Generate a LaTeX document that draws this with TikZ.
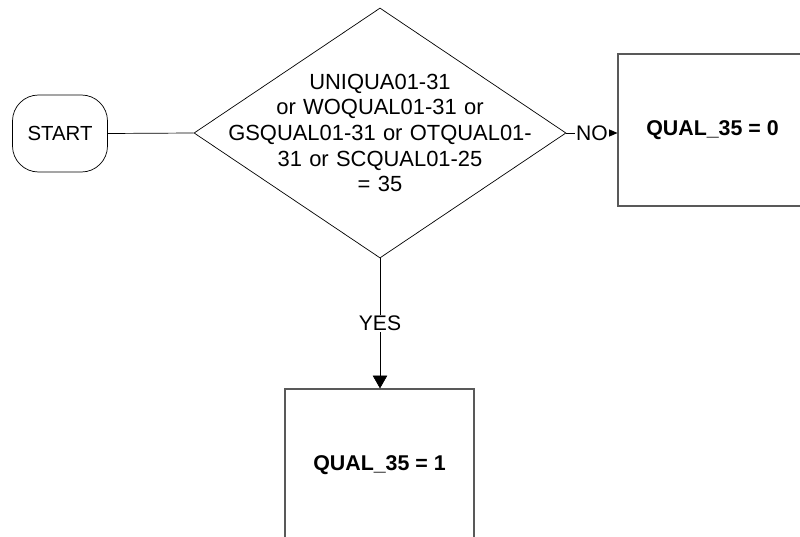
\documentclass[tikz,border=0pt]{standalone}
\usepackage{fontspec}
\setmainfont{Liberation Sans}
\usepackage{tikz}
\usetikzlibrary{shapes.geometric, arrows.meta, positioning, calc}

\begin{document}
\begin{tikzpicture}[
  terminal/.style={rectangle, rounded corners=0.65cm, draw=black, line width=0.5pt,
                   minimum width=2.375cm, minimum height=1.925cm, align=center,
                   font=\fontsize{14.5}{17}\selectfont},
  decision/.style={diamond, draw=black, line width=0.5pt, aspect=1.5,
                   inner sep=-1.2cm, minimum width=9.3cm, minimum height=6.25cm,
                   text width=8cm, align=center,
                   font=\fontsize{15.6}{18.2}\selectfont},
  process/.style={rectangle, draw=black!65, line width=0.8pt,
                  minimum width=4.725cm, minimum height=3.8cm, align=center,
                  font=\fontsize{15.2}{18}\selectfont\bfseries},
  line/.style={draw=black, line width=0.5pt},
  arr/.style={-{Triangle[length=3.2mm, width=3.6mm]}, line width=0.5pt},
  arrsmall/.style={-{Triangle[length=2.8mm, width=2.4mm]}, line width=0.5pt},
  lbl/.style={fill=white, inner sep=1pt, font=\fontsize{15}{18}\selectfont}
]

  % Canvas
  \useasboundingbox (0,0) rectangle (20,-13.425);

  % Start
  \node[terminal] (start) at (1.5, -3.3375) {START};

  % Decision
  \node[decision] (qual)  at (9.5, -3.325)
        {UNIQUA01-31\\or WOQUAL01-31 or\\GSQUAL01-31 or OTQUAL01-\\31 or SCQUAL01-25\\= 35};

  % No branch (right)
  \node[process]  (zero)  at (17.8125, -3.25)  {QUAL\_35 = 0};

  % Yes branch (down)
  \node[process]  (one)   at (9.4875, -11.625) {QUAL\_35 = 1};

  % ── Arrows ────────────────────────────────────────────────────────────
  \draw[line] (start.east) -- (qual.west);

  % qual → right (no)
  \draw[arrsmall] (qual.east) -- node[lbl]{NO} (qual.east -| zero.west);

  % qual → down (yes)
  \draw[arr] (qual.south) -- node[lbl]{YES} (qual.south |- one.north);

\end{tikzpicture}
\end{document}
